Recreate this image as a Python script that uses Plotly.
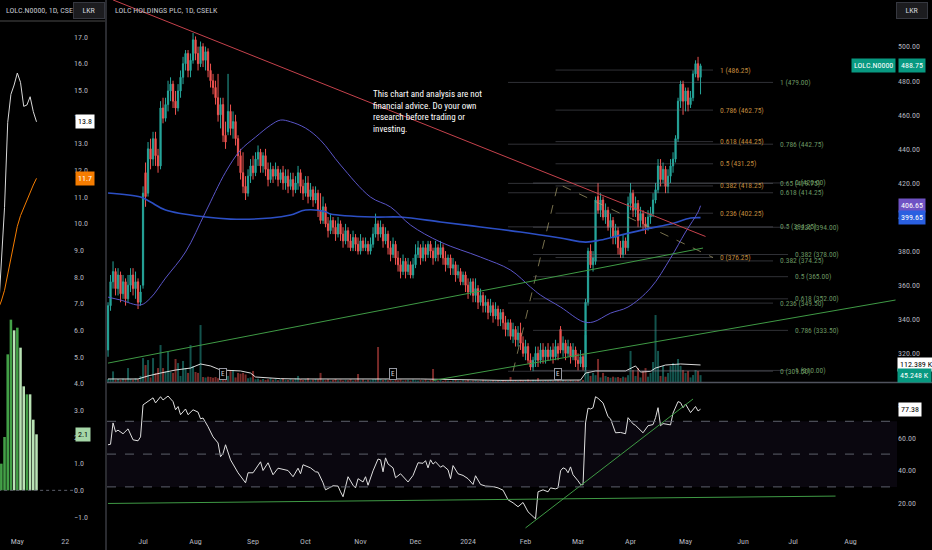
import pandas as pd
import plotly.graph_objects as go

W, H = 932, 550
FONT = "Liberation Sans Narrow, Arial Narrow, Roboto Condensed, Roboto, sans-serif"
AXIS_COL = "#b2b5be"
UP, DOWN = "#26a69a", "#ef5350"

START = "2023-06-13"  # first daily bar on the chart

# ---- daily candles (LKR) ----
opens = [
    322, 348, 362, 368, 358, 366, 355, 362, 352, 360,
    366, 358, 362, 350, 360, 426, 414, 440, 434, 446,
    436, 430, 464, 458, 466, 474, 478, 468, 464, 474,
    482, 490, 496, 486, 492, 504, 496, 490, 500, 492,
    497, 486, 480, 476, 470, 460, 466, 448, 450, 462,
    452, 456, 446, 436, 426, 418, 414, 424, 430, 426,
    434, 438, 430, 436, 428, 422, 428, 424, 428, 422,
    426, 420, 424, 418, 422, 416, 420, 426, 418, 414,
    420, 412, 416, 410, 414, 404, 398, 406, 396, 392,
    398, 394, 390, 396, 390, 386, 392, 386, 382, 388,
    384, 380, 386, 382, 384, 380, 384, 390, 396, 390,
    394, 386, 390, 382, 378, 384, 376, 372, 368, 374,
    368, 372, 366, 372, 378, 382, 376, 382, 378, 384,
    380, 376, 382, 378, 382, 376, 372, 376, 370, 372,
    366, 368, 362, 366, 360, 356, 362, 354, 358, 350,
    354, 348, 350, 344, 348, 342, 346, 340, 344, 338,
    334, 338, 330, 334, 328, 332, 326, 320, 324, 316,
    312, 316, 320, 316, 322, 318, 322, 318, 322, 318,
    324, 334, 322, 326, 320, 324, 318, 322, 316, 314,
    318, 312, 350, 380, 372, 374, 412, 404, 410, 400,
    404, 394, 398, 388, 392, 382, 378, 386, 382, 408,
    414, 404, 408, 398, 402, 396, 394, 400, 402, 410,
    416, 430, 422, 428, 418, 424, 430, 434, 446, 468,
    478, 468, 474, 466, 470, 484, 490, 482,
]
highs = [
    350, 366, 374, 370, 370, 368, 366, 364, 366, 370,
    370, 368, 364, 360, 418, 432, 444, 446, 450, 450,
    440, 468, 470, 470, 480, 482, 480, 474, 478, 486,
    494, 498, 498, 496, 508, 506, 500, 503, 502, 500,
    499, 490, 484, 480, 484, 470, 470, 456, 484, 466,
    462, 460, 448, 440, 438, 424, 428, 434, 436, 438,
    442, 440, 438, 440, 432, 432, 430, 432, 430, 428,
    430, 428, 428, 426, 426, 424, 430, 428, 422, 424,
    424, 420, 418, 418, 416, 414, 412, 408, 400, 402,
    400, 398, 400, 398, 394, 396, 394, 390, 392, 390,
    388, 390, 388, 388, 386, 388, 394, 402, 398, 398,
    396, 394, 392, 386, 388, 386, 380, 376, 378, 376,
    376, 374, 376, 384, 386, 384, 386, 384, 386, 386,
    382, 386, 384, 386, 384, 380, 378, 378, 376, 374,
    372, 370, 368, 368, 364, 364, 364, 364, 360, 358,
    356, 354, 352, 352, 350, 350, 348, 346, 346, 342,
    340, 340, 338, 336, 336, 338, 330, 328, 326, 320,
    318, 324, 324, 326, 326, 324, 326, 324, 326, 328,
    326, 336, 330, 328, 328, 326, 326, 324, 320, 322,
    320, 352, 382, 384, 380, 412, 420, 414, 412, 408,
    406, 402, 400, 396, 394, 386, 390, 388, 412, 420,
    416, 412, 410, 406, 404, 400, 404, 406, 414, 420,
    434, 434, 432, 430, 428, 434, 438, 448, 470, 480,
    480, 476, 476, 474, 486, 492, 494, 490,
]
lows = [
    318, 345, 358, 354, 354, 350, 352, 348, 350, 356,
    354, 352, 346, 348, 358, 406, 412, 428, 430, 430,
    426, 428, 455, 456, 462, 468, 464, 460, 462, 470,
    478, 486, 482, 482, 490, 492, 486, 488, 488, 486,
    482, 476, 472, 466, 456, 452, 444, 440, 448, 448,
    446, 442, 430, 422, 414, 410, 412, 420, 422, 424,
    430, 426, 426, 424, 418, 420, 420, 422, 418, 420,
    416, 416, 414, 416, 412, 414, 416, 414, 410, 412,
    408, 410, 406, 408, 400, 396, 396, 394, 388, 390,
    390, 386, 388, 386, 382, 384, 382, 380, 380, 380,
    378, 378, 380, 380, 378, 378, 382, 388, 386, 388,
    382, 384, 378, 374, 376, 372, 368, 364, 366, 364,
    366, 364, 364, 370, 376, 372, 374, 374, 376, 376,
    372, 374, 374, 376, 372, 368, 370, 366, 366, 362,
    364, 360, 360, 356, 352, 354, 350, 350, 346, 348,
    344, 344, 340, 342, 338, 340, 336, 336, 334, 330,
    330, 328, 326, 324, 324, 322, 318, 316, 314, 310,
    309.5, 312, 312, 314, 314, 314, 316, 316, 314, 316,
    316, 320, 318, 316, 318, 314, 316, 312, 310, 312,
    310, 310, 348, 370, 368, 372, 402, 400, 398, 396,
    392, 388, 384, 384, 378, 376, 376, 378, 380, 404,
    400, 400, 394, 394, 392, 390, 392, 396, 400, 408,
    414, 418, 420, 414, 414, 420, 426, 432, 444, 464,
    460, 462, 462, 464, 468, 482, 480, 472,
]
closes = [
    348, 362, 368, 358, 366, 355, 362, 352, 360, 366,
    358, 362, 350, 356, 414, 412, 440, 434, 446, 436,
    430, 464, 458, 466, 474, 478, 468, 464, 474, 482,
    490, 496, 486, 492, 504, 496, 490, 500, 492, 497,
    486, 480, 476, 470, 460, 466, 448, 444, 462, 452,
    456, 446, 436, 426, 418, 414, 424, 430, 426, 434,
    438, 430, 436, 428, 422, 428, 424, 428, 422, 426,
    420, 424, 418, 422, 416, 420, 426, 418, 414, 420,
    412, 416, 410, 414, 404, 398, 406, 396, 392, 398,
    394, 390, 396, 390, 386, 392, 386, 382, 388, 384,
    380, 386, 382, 384, 380, 384, 390, 396, 390, 394,
    386, 390, 382, 378, 384, 376, 372, 368, 374, 368,
    372, 366, 372, 378, 382, 376, 382, 378, 384, 380,
    376, 382, 378, 382, 376, 372, 376, 370, 372, 366,
    368, 362, 366, 360, 356, 362, 354, 358, 350, 354,
    348, 350, 344, 348, 342, 346, 340, 344, 338, 334,
    338, 330, 334, 328, 332, 326, 320, 324, 316, 312,
    316, 320, 316, 322, 318, 322, 318, 322, 318, 324,
    320, 322, 326, 320, 324, 318, 322, 316, 314, 318,
    312, 350, 380, 372, 376, 410, 404, 410, 400, 404,
    394, 398, 388, 392, 382, 378, 386, 382, 408, 414,
    404, 408, 398, 402, 396, 394, 400, 402, 410, 416,
    430, 422, 428, 418, 424, 430, 434, 446, 468, 478,
    468, 474, 466, 470, 484, 490, 482, 488.75,
]
# volume in thousands
volumes = [
    20, 18, 70, 15, 20, 14, 22, 18, 92, 20,
    16, 24, 18, 40, 158, 112, 145, 30, 158, 60,
    92, 244, 92, 70, 198, 66, 60, 152, 125, 40,
    139, 92, 60, 244, 106, 66, 60, 376, 33, 30,
    35, 33, 28, 33, 25, 30, 20, 24, 40, 73,
    79, 30, 60, 55, 60, 50, 25, 30, 73, 18,
    22, 15, 20, 14, 18, 25, 16, 20, 12, 18,
    22, 15, 14, 20, 16, 24, 40, 20, 14, 18,
    25, 12, 16, 20, 18, 60, 15, 12, 18, 10,
    14, 20, 12, 16, 10, 14, 12, 18, 10, 14,
    53, 12, 16, 10, 14, 12, 18, 20, 231, 20,
    14, 18, 12, 16, 10, 14, 12, 16, 10, 12,
    14, 10, 16, 12, 10, 14, 12, 16, 10, 14,
    86, 12, 10, 14, 8, 12, 10, 8, 12, 14,
    10, 8, 12, 10, 14, 8, 10, 12, 8, 10,
    14, 12, 8, 10, 12, 8, 10, 14, 12, 10,
    8, 33, 10, 12, 8, 14, 10, 12, 16, 10,
    14, 12, 26, 10, 8, 12, 10, 14, 8, 10,
    12, 8, 14, 10, 8, 12, 10, 8, 12, 10,
    14, 310, 60, 40, 60, 45, 152, 30, 60, 40,
    33, 28, 35, 30, 33, 26, 35, 30, 45, 205,
    79, 40, 92, 30, 73, 92, 35, 60, 132, 442,
    205, 40, 106, 35, 60, 106, 125, 112, 152, 106,
    79, 60, 73, 30, 46, 79, 73, 45.248,
]

# indicator lines, read at bar positions (bar index from START)
vma_idx = [0, 12, 14, 16, 21, 27, 33, 37, 41, 45, 53, 57, 59, 69, 77, 109,
           117, 125, 157, 177, 189, 191, 195, 207, 209, 211, 213, 217, 219, 223, 229, 237]
vma_val = [20, 20, 30, 40, 59, 79, 92, 119, 106, 79, 73, 59, 33, 22, 20, 22,
           22, 20, 11, 10, 13, 59, 73, 73, 92, 106, 66, 70, 92, 112, 119, 112.389]

ma_long_idx = [0, 13, 17, 23, 39, 49, 65, 73, 79, 87, 89, 106, 117, 133, 149,
               165, 181, 191, 197, 205, 217, 225, 233, 237]
ma_long_val = [414.1, 411.7, 408.8, 404.1, 400.0, 398.8, 399.4, 401.2, 404.1, 403.1,
               401.8, 400.0, 400.0, 397.1, 394.2, 391.2, 387.7, 385.3, 386.5, 389.4,
               393.5, 395.9, 399.4, 399.65]

ma_mid_idx = [0, 5, 13, 17, 23, 31, 39, 47, 53, 59, 65, 69, 73, 79, 85, 93, 105,
              113, 121, 133, 149, 161, 169, 173, 181, 190, 194, 201, 208, 217, 225,
              231, 236, 237]
ma_mid_val = [353.0, 351.3, 348.4, 352.5, 364.2, 379.5, 402.9, 426.3, 439.3, 446.9,
              453.9, 456.9, 455.9, 452.2, 445.1, 430.5, 411.7, 405.9, 395.3, 385.3,
              376.5, 368.9, 358.9, 354.2, 347.2, 338.6, 338.4, 343.6, 347.2, 358.3,
              375.9, 391.2, 402.9, 406.65]

rsi_idx = [0, 1, 2, 3, 4, 6, 8, 10, 12, 13, 14, 16, 18, 19, 21, 22, 24, 26, 27, 28,
           29, 31, 32, 34, 36, 37, 38, 40, 42, 44, 45, 46, 47, 49, 52, 55, 56, 58,
           61, 62, 64, 66, 68, 72, 74, 76, 77, 78, 81, 83, 84, 86, 87, 90, 92, 93,
           94, 96, 98, 99, 100, 102, 103, 104, 106, 108, 109, 110, 111, 112, 114,
           115, 117, 120, 122, 124, 126, 127, 128, 129, 130, 131, 133, 134, 136,
           137, 138, 140, 142, 144, 146, 147, 149, 151, 154, 156, 158, 160, 162,
           164, 166, 168, 170, 171, 172, 174, 176, 177, 179, 180, 181, 182, 183,
           184, 185, 186, 188, 189, 190, 191, 192, 193, 194, 195, 196, 198, 200,
           201, 203, 205, 207, 208, 210, 211, 214, 215, 216, 218, 219, 220, 221,
           222, 224, 225, 226, 228, 229, 230, 231, 233, 235, 236, 237]
rsi_val = [55.7, 56, 69, 63.6, 64.6, 62.4, 65.4, 58.7, 58.1, 60.5, 80, 82, 84.3, 81.2,
           85, 83, 85.4, 82, 77, 79, 74, 77.5, 74, 77, 75.6, 71.5, 72, 66.7, 60.5,
           56.8, 48.4, 50.4, 55.7, 46.5, 38.6, 32.5, 38.6, 38.6, 45.3, 40, 44.7,
           37.4, 41.4, 40, 36.2, 41.4, 38, 43.5, 41.6, 39.2, 39, 32.5, 28.2, 30.7,
           30.5, 27, 24, 36.2, 31, 29.4, 35, 33, 36.2, 31, 39.8, 47, 46.5, 39.2,
           47.7, 44, 41.6, 35.6, 38, 33, 37, 44.7, 44.4, 46, 41.6, 46.5, 43.9,
           45.3, 42, 43, 40.4, 35, 43, 38, 37, 35, 31.5, 36.8, 31.5, 30.5, 30.2,
           29.4, 28, 22.1, 20.3, 17.9, 20.5, 14.8, 11.8, 10.5, 27, 28.2, 27, 29.4,
           28.8, 29.4, 39.8, 41.6, 41, 38.6, 42.2, 37.4, 33.7, 31.5, 31.3, 69, 78,
           77.5, 78.3, 85, 84, 81.2, 72.8, 71.5, 63, 63.2, 62.4, 72.2, 68.4, 67.5,
           63, 65, 67.3, 68, 72.2, 78.3, 67.3, 68.6, 68.2, 67.8, 75, 82, 81.4,
           78.3, 80.5, 75.3, 79, 76.3, 77.38]

# drawings
red_line_idx, red_line_val = [2, 239], [527.4, 388.6]
green_a_idx, green_a_val = [0, 238], [314.3, 381.8]
green_b_idx, green_b_val = [130, 315], [304.1, 351.3]
fib_path_idx, fib_path_val = [162, 180, 242], [309.5, 419.5, 376.25]
rsi_up_idx, rsi_up_val = [167, 234], [5.0, 83.6]
rsi_flat_idx, rsi_flat_val = [0, 291], [19.9, 24.4]

fib_ext_levels = ["0", "0.236", "0.382", "0.5", "0.618", "0.786", "1"]
fib_ext_prices = [376.25, 402.25, 418.25, 431.25, 444.25, 462.75, 486.25]
fib_a_levels = ["0", "0.236", "0.382", "0.5", "0.618", "0.65", "0.786", "1"]
fib_a_prices = [309.50, 349.50, 374.25, 394.25, 414.25, 419.75, 442.75, 479.00]
fib_b_levels = ["0", "0.236", "0.382", "0.5", "0.618", "0.786", "1"]
fib_b_prices = [420.00, 394.00, 378.00, 365.00, 352.00, 333.50, 310.00]

earnings_idx = [46, 114, 180]

month_ticks = ["2023-07-03", "2023-08-01", "2023-09-01", "2023-10-02", "2023-11-01",
               "2023-12-01", "2024-01-01", "2024-02-01", "2024-03-01", "2024-04-01",
               "2024-05-01", "2024-06-03", "2024-07-01", "2024-08-01"]
month_labels = ["Jul", "Aug", "Sep", "Oct", "Nov", "Dec", "2024", "Feb", "Mar", "Apr",
                "May", "Jun", "Jul", "Aug"]

# left mini chart (same symbol, recent bars)
left_idx = [225, 226, 227, 228, 229, 230, 231, 232, 233, 234, 235, 236, 237]
left_white = [6.5, 8.6, 10.6, 13.8, 14.85, 15.2, 15.65, 15.3, 14.4, 14.45, 14.76, 14.2, 13.82]
left_orange = [6.8, 7.1, 7.5, 8.1, 8.75, 9.35, 9.9, 10.3, 10.6, 10.9, 11.2, 11.45, 11.7]
hist_idx = [226, 227, 228, 229, 230, 231, 232, 233, 234, 235, 236, 237]
hist_val = [1.0, 2.0, 5.1, 6.4, 6.0, 6.1, 5.35, 3.9, 3.6, 3.6, 2.65, 2.1]
hist_dark = [1, 1, 1, 1, 0, 1, 0, 0, 1, 0, 0, 0]

assert len(opens) == len(highs) == len(lows) == len(closes) == len(volumes)

days = pd.bdate_range(START, periods=330)
dates = days[:len(closes)]


def at(idx):
    return [days[i] for i in idx]


def stamp(i, hours):
    return (days[i] + pd.Timedelta(hours=hours)).strftime("%Y-%m-%d %H:%M")


fig = go.Figure()

# volume (base axis, drawn underneath the price layer)
vol_colors = ["rgba(38,166,154,0.5)" if c >= o else "rgba(239,83,80,0.5)"
              for o, c in zip(opens, closes)]
fig.add_trace(go.Bar(x=dates, y=volumes, marker=dict(color=vol_colors, line_width=0),
                     xaxis="x", yaxis="y"))
fig.add_trace(go.Scatter(x=at(vma_idx), y=vma_val, mode="lines",
                         line=dict(color="rgba(255,255,255,0.85)", width=1),
                         xaxis="x", yaxis="y"))


def level_lines(prices, i0, i1):
    xs, ys = [], []
    for p in prices:
        xs += [days[i0], days[i1], None]
        ys += [p, p, None]
    return xs, ys


line_col = "rgba(120,123,134,0.4)"
for prices, i0, i1 in [(fib_a_prices, 160, 266), (fib_b_prices, 170, 272),
                       (fib_ext_prices, 179, 242)]:
    xs, ys = level_lines(prices, i0, i1)
    fig.add_trace(go.Scatter(x=xs, y=ys, mode="lines", line=dict(color=line_col, width=1),
                             xaxis="x", yaxis="y2"))

fig.add_trace(go.Scatter(x=at(fib_path_idx), y=fib_path_val, mode="lines",
                         line=dict(color="rgba(170,160,110,0.7)", width=1, dash="dash"),
                         xaxis="x", yaxis="y2"))

fig.add_trace(go.Scatter(x=at(ma_long_idx), y=ma_long_val, mode="lines", line_shape="spline",
                         line=dict(color="#2c4fc4", width=1.6), xaxis="x", yaxis="y2"))
fig.add_trace(go.Scatter(x=at(ma_mid_idx), y=ma_mid_val, mode="lines", line_shape="spline",
                         line=dict(color="#5a55c8", width=1), xaxis="x", yaxis="y2"))

for idx, val, col in [(red_line_idx, red_line_val, "#c6424c"),
                      (green_a_idx, green_a_val, "#3f9a45"),
                      (green_b_idx, green_b_val, "#3f9a45")]:
    fig.add_trace(go.Scatter(x=at(idx), y=val, mode="lines", line=dict(color=col, width=1),
                             xaxis="x", yaxis="y2"))

fig.add_trace(go.Candlestick(
    x=dates, open=opens, high=highs, low=lows, close=closes,
    increasing=dict(line=dict(color=UP, width=1), fillcolor=UP),
    decreasing=dict(line=dict(color=DOWN, width=1), fillcolor=DOWN),
    whiskerwidth=0, xaxis="x", yaxis="y2"))

# RSI pane
fig.add_trace(go.Scatter(x=at(rsi_idx), y=rsi_val, mode="lines",
                         line=dict(color="#e0e0e0", width=1), xaxis="x2", yaxis="y3"))
for idx, val in [(rsi_up_idx, rsi_up_val), (rsi_flat_idx, rsi_flat_val)]:
    fig.add_trace(go.Scatter(x=at(idx), y=val, mode="lines", line=dict(color="#3f9a45", width=1),
                             xaxis="x2", yaxis="y3"))

# left mini chart
fig.add_trace(go.Scatter(x=[days[225], days[249]], y=[0, 0], mode="lines",
                         line=dict(color="#5d606b", width=1, dash="dot"), xaxis="x3", yaxis="y4"))
fig.add_trace(go.Bar(x=at(hist_idx), y=hist_val,
                     marker=dict(color=["#43a047" if d else "#b9e3b5" for d in hist_dark], line_width=0),
                     xaxis="x3", yaxis="y4"))
fig.add_trace(go.Scatter(x=at(left_idx), y=left_white, mode="lines",
                         line=dict(color="#d8d8d8", width=1), xaxis="x3", yaxis="y4"))
fig.add_trace(go.Scatter(x=at(left_idx), y=left_orange, mode="lines",
                         line=dict(color="#f57c00", width=1), xaxis="x3", yaxis="y4"))

breaks = [dict(bounds=["sat", "mon"])]
tickfont = dict(size=8, color=AXIS_COL, family=FONT)
main_dom = [107 / W, 897 / W]
price_dom = [1 - 382 / H, 1]
rsi_dom = [1 - 535 / H, 1 - 384 / H]
main_range = [stamp(0, -10), stamp(315, 14)]

fig.update_layout(
    width=W, height=H, margin=dict(l=0, r=0, t=0, b=0),
    paper_bgcolor="#000000", plot_bgcolor="#000000",
    showlegend=False, hovermode=False, bargap=0.2,
    font=dict(family=FONT, color=AXIS_COL, size=8),
    xaxis=dict(domain=main_dom, anchor="y", range=main_range, rangebreaks=breaks,
               showticklabels=False, showgrid=False, zeroline=False, rangeslider=dict(visible=False)),
    yaxis=dict(domain=price_dom, range=[0, 382 * 6.6], visible=False, fixedrange=True),
    yaxis2=dict(overlaying="y", anchor="x", side="right", range=[303.2, 527.36],
                tickvals=list(range(320, 501, 20)), tickformat=".2f", ticks="",
                showgrid=False, zeroline=False, tickfont=tickfont),
    xaxis2=dict(domain=main_dom, anchor="y3", matches="x", range=main_range, rangebreaks=breaks,
                tickvals=month_ticks, ticktext=month_labels, ticks="", showgrid=False,
                zeroline=False, tickfont=tickfont),
    yaxis3=dict(domain=rsi_dom, anchor="x2", side="right", range=[0.67, 92.74],
                tickvals=[20, 40, 60, 80], tickformat=".2f", ticks="", showgrid=False,
                zeroline=False, tickfont=tickfont),
    xaxis3=dict(domain=[0, 73 / W], anchor="y4", range=[stamp(225, 14), stamp(248, 10)],
                rangebreaks=breaks, tickvals=["2024-05-01", "2024-05-22"], ticktext=["May", "22"],
                ticks="", showgrid=False, zeroline=False, tickfont=tickfont),
    yaxis4=dict(domain=[1 - 535 / H, 1], anchor="x3", side="right", range=[-1.675, 18.3875],
                dtick=1, tickformat=".1f", ticks="", showgrid=False, zeroline=False,
                tickfont=tickfont),
)

shapes = [
    dict(type="rect", xref="x2 domain", x0=0, x1=1, yref="y3", y0=30, y1=70,
         fillcolor="rgba(126,87,194,0.08)", line_width=0, layer="below"),
]
for lvl in [70, 50, 30]:
    shapes.append(dict(type="line", xref="x2 domain", x0=0, x1=1, yref="y3", y0=lvl, y1=lvl,
                       line=dict(color="#5d606b", width=1, dash="dash")))
shapes += [
    dict(type="line", xref="paper", yref="paper", x0=107 / W, x1=1, y0=1 - 382.5 / H,
         y1=1 - 382.5 / H, line=dict(color="#50535e", width=1.5)),
    dict(type="line", xref="paper", yref="paper", x0=106 / W, x1=106 / W, y0=0, y1=1,
         line=dict(color="#2a2b30", width=2)),
    dict(type="line", xref="paper", yref="paper", x0=0, x1=105 / W, y0=1 - 21 / H,
         y1=1 - 21 / H, line=dict(color="#4a4a4a", width=1)),
]
fig.update_layout(shapes=shapes)


def note(text, x, y, xref="paper", yref="paper", size=8, color=AXIS_COL, anchor="left", **kw):
    fig.add_annotation(text=text, x=x, y=y, xref=xref, yref=yref, showarrow=False,
                       xanchor=anchor, yanchor="middle", font=dict(size=size, color=color, family=FONT), **kw)


EXT_COL, FIB_COL = "#c08a3e", "#6a9560"
for levels, prices, li, col in [(fib_ext_levels, fib_ext_prices, 244, EXT_COL),
                                (fib_a_levels, fib_a_prices, 268, FIB_COL),
                                (fib_b_levels, fib_b_prices, 274, FIB_COL)]:
    for lvl, p in zip(levels, prices):
        note(f"{lvl} ({p:.2f})", days[li], p, xref="x", yref="y2", size=7.5, color=col)

for i in earnings_idx:
    note("E", days[i], 1 - 374 / H, xref="x", size=7, color="#d1d4dc", anchor="center",
         bgcolor="#000000", bordercolor="#9598a1", borderwidth=1, borderpad=1)

note("This chart and analysis are not<br>financial advice. Do your own<br>research before trading or<br>investing.",
     371 / W, 1 - 112 / H, size=9, color="#ffffff", align="left")

note("LOLC HOLDINGS PLC, 1D, CSELK", 113 / W, 1 - 10 / H, size=8, color="#c3c6ce")
note("LOLC.N0000, 1D, CSELK", 4 / W, 1 - 10 / H, size=8, color="#c3c6ce")
for cx in [89, 912]:
    note("LKR", cx / W, 1 - 10.5 / H, size=8, color="#d1d4dc", anchor="center",
         bgcolor="#1c1c1f", bordercolor="#363840", borderwidth=1, borderpad=3, width=24)

# price-scale tags
note("LOLC.N0000", 896 / W, 488.75, yref="y2", color="#ffffff", anchor="right", bgcolor="#089981", borderpad=2)
note("488.75", 898 / W, 488.75, yref="y2", color="#ffffff", bgcolor="#089981", borderpad=2)
note("406.65", 898 / W, 406.65, yref="y2", color="#ffffff", bgcolor="#6f52c4", borderpad=2)
note("399.65", 898 / W, 399.65, yref="y2", color="#ffffff", bgcolor="#2a5fe0", borderpad=2)
note("112.389 K", 897 / W, 112.389, yref="y", color="#000000", bgcolor="#ffffff", borderpad=2)
note("45.248 K", 897 / W, 45.248, yref="y", color="#ffffff", bgcolor="#089981", borderpad=2)
note("77.38", 898 / W, 77.38, yref="y3", color="#000000", bgcolor="#ffffff", borderpad=2)
note("13.8", 75 / W, 13.82, yref="y4", color="#000000", bgcolor="#ffffff", borderpad=2)
note("11.7", 75 / W, 11.7, yref="y4", color="#ffffff", bgcolor="#f57c00", borderpad=2)
note("2.1", 75 / W, 2.1, yref="y4", color="#000000", bgcolor="#a5d6a7", borderpad=2)

fig.write_html("out.html", config={"displayModeBar": False},
               post_script="document.body.style.margin='0';document.body.style.overflow='hidden';")
